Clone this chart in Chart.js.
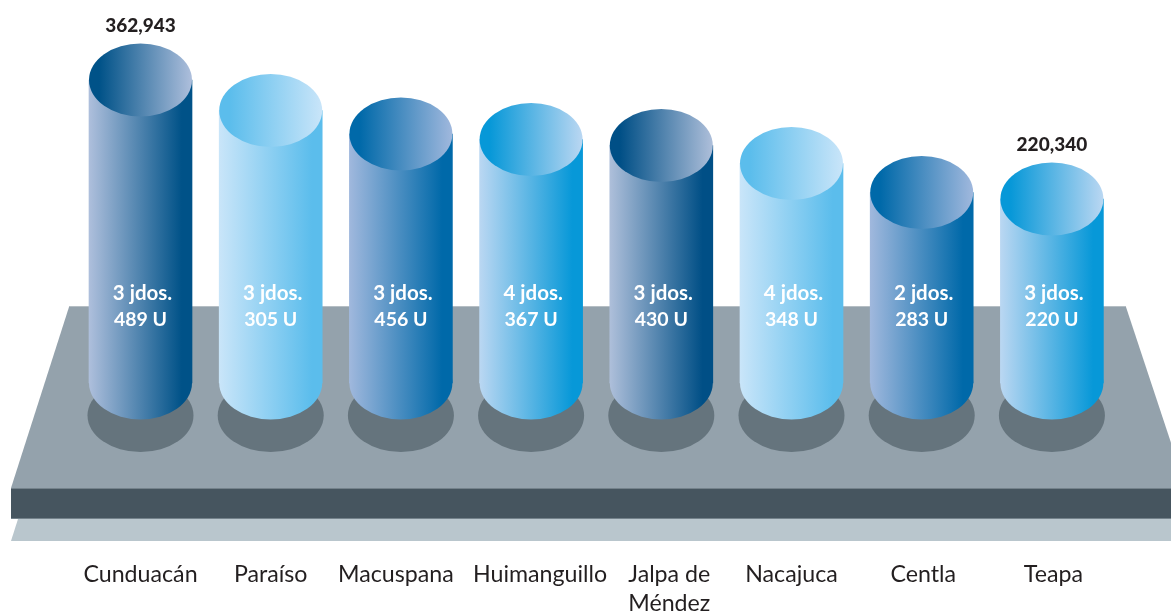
<!DOCTYPE html>
<html>
<head>
<meta charset="utf-8">
<title>Juzgados y unidades por municipio</title>
<script src="https://cdn.jsdelivr.net/npm/chart.js@4/dist/chart.umd.min.js"></script>
<style>
    html, body { margin: 0; padding: 0; background: #fff; }
    #wrap { width: 1171px; height: 613px; }
</style>
</head>
<body>
<div id="wrap"><canvas id="chart1"></canvas></div>
<script>
// values, only the first and last are printed
const municipios = ['Cunduacán', 'Paraíso', 'Macuspana', 'Huimanguillo', ['Jalpa de', 'Méndez'], 'Nacajuca', 'Centla', 'Teapa'];
const poblacion = [362943, 326500, 298300, 291700, 284500, 263000, 228200, 220340];
const juzgados = [3, 3, 3, 4, 3, 4, 2, 3];
const unidades = [489, 305, 456, 367, 430, 348, 283, 220];
const rotulados = [0, 7];

// light / dark end of each cylinder
const claros = ['#aebfdc', '#c9e5f9', '#a0b8dd', '#bad7f2', '#aebfda', '#c9e5f9', '#a0b8dd', '#bad7f2'];
const oscuros = ['#005288', '#5bbdec', '#0069a9', '#0798d8', '#004f86', '#5bbdec', '#0069a9', '#0798d8'];

// the labels are not quite centred under the cylinders in the original
const corrimientos = [0, 0, -5, 9, 8, 0, 1.5, 1.5];

const ANCHO = 103;
const RY = 36.5;

function degradado(chart, i, invertido) {
    const x = chart.scales.x ? chart.scales.x.getPixelForValue(i) : NaN;
    if (!Number.isFinite(x)) {
        return claros[i];
    }
    const g = chart.ctx.createLinearGradient(x - ANCHO / 2, 0, x + ANCHO / 2, 0);
    g.addColorStop(invertido ? 0.1 : 0, invertido ? oscuros[i] : claros[i]);
    g.addColorStop(invertido ? 1 : 0.9, invertido ? claros[i] : oscuros[i]);
    return g;
}

function elipse(ctx, x, y, rx, ry, fill) {
    ctx.beginPath();
    ctx.ellipse(x, y, rx, ry, 0, 0, Math.PI * 2);
    ctx.fillStyle = fill;
    ctx.fill();
}

const plataforma = {
    id: 'plataforma',
    beforeDatasetsDraw(chart) {
        const ctx = chart.ctx;
        ctx.save();
        // strip under the slab
        ctx.fillStyle = '#b9c6cd';
        ctx.beginPath();
        ctx.moveTo(18, 519);
        ctx.lineTo(1171, 519);
        ctx.lineTo(1171, 541);
        ctx.lineTo(11, 541);
        ctx.closePath();
        ctx.fill();
        // front of the slab
        ctx.fillStyle = '#46555f';
        ctx.fillRect(11, 488, 1160, 31);
        // top of the slab
        ctx.fillStyle = '#94a2ac';
        ctx.beginPath();
        ctx.moveTo(69, 307);
        ctx.lineTo(1126, 307);
        ctx.lineTo(1186, 488);
        ctx.lineTo(11, 488);
        ctx.closePath();
        ctx.fill();
        // thin light edges of the slab
        ctx.fillStyle = '#b5bec4';
        ctx.fillRect(69, 306, 1057, 1);
        ctx.fillStyle = '#74828b';
        ctx.fillRect(11, 488, 1160, 1);
        ctx.fillRect(11, 518, 1160, 1);
        // shadows
        chart.getDatasetMeta(0).data.forEach(bar => {
            elipse(ctx, bar.x, bar.base + 32.5, 53, RY, '#65747d');
        });
        ctx.restore();
    },
    afterDatasetsDraw(chart) {
        const ctx = chart.ctx;
        ctx.save();
        ctx.textAlign = 'center';
        ctx.textBaseline = 'middle';
        chart.getDatasetMeta(0).data.forEach((bar, i) => {
            elipse(ctx, bar.x, bar.base, ANCHO / 2, RY, degradado(chart, i, false));
            elipse(ctx, bar.x, bar.y, ANCHO / 2, RY, degradado(chart, i, true));

            ctx.fillStyle = '#ffffff';
            ctx.font = 'bold 20.5px Lato';
            ctx.fillText(juzgados[i] + ' jdos.', bar.x + 2, 293);
            ctx.font = 'bold 19.5px Lato';
            ctx.fillText(unidades[i] + ' U', bar.x, 320);

            if (rotulados.includes(i)) {
                ctx.fillStyle = '#231f20';
                ctx.font = '900 19px Lato';
                ctx.fillText(poblacion[i].toLocaleString('en-US'), bar.x, bar.y - RY - 18);
            }
        });
        ctx.restore();
    }
};

new Chart(document.getElementById('chart1'), {
    type: 'bar',
    data: {
        labels: municipios,
        datasets: [{
            data: poblacion,
            barThickness: ANCHO,
            borderWidth: 0,
            backgroundColor: c => degradado(c.chart, c.dataIndex, false)
        }]
    },
    options: {
        responsive: true,
        maintainAspectRatio: false,
        animation: false,
        layout: { padding: { left: 75.4, right: 54, top: 0, bottom: 0 } },
        plugins: {
            legend: { display: false },
            tooltip: { enabled: false }
        },
        scales: {
            x: {
                afterFit: axis => {
                    axis.height = 68;
                    const pixelForTick = Object.getPrototypeOf(axis).getPixelForTick;
                    axis.getPixelForTick = function (i) {
                        return pixelForTick.call(this, i) + corrimientos[i];
                    };
                },
                grid: { display: false },
                border: { display: false },
                ticks: {
                    autoSkip: false,
                    maxRotation: 0,
                    padding: 7,
                    color: '#231f20',
                    font: { family: 'Lato', size: 23.2, lineHeight: 1.25 }
                }
            },
            y: {
                display: false,
                min: -194076,
                max: 458834
            }
        }
    },
    plugins: [plataforma]
});
</script>
</body>
</html>
